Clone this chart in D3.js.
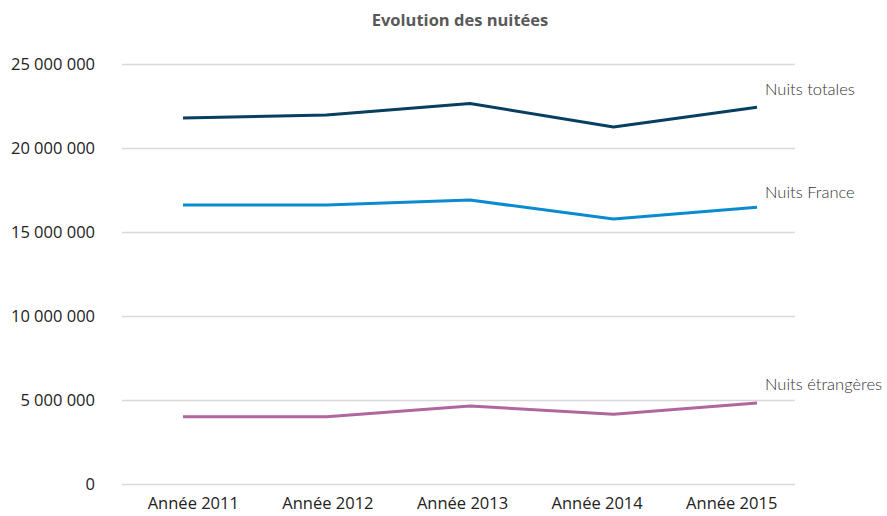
<!DOCTYPE html>
<html lang="fr">
<head>
<meta charset="utf-8">
<title>Evolution des nuitées</title>
<script src="https://cdnjs.cloudflare.com/ajax/libs/d3/7.8.5/d3.min.js"></script>
<style>
  body { margin: 0; background: #fff; }
  svg { display: block; }
  .tick text { font-family: "Open Sans", sans-serif; font-size: 16.5px; fill: #222; }
</style>
</head>
<body>
<div id="chart"></div>
<script>
// data
const years = ["Année 2011", "Année 2012", "Année 2013", "Année 2014", "Année 2015"];
const totales = [21790000, 21960000, 22650000, 21250000, 22420000];
const france = [16600000, 16600000, 16900000, 15770000, 16470000];
const etrangeres = [4000000, 4000000, 4640000, 4150000, 4820000];
const yTicks = [0, 5000000, 10000000, 15000000, 20000000, 25000000];

const series = [
  { name: "Nuits totales", values: totales, color: "#063f5f", dy: -12 },
  { name: "Nuits France", values: france, color: "#0a8bd0", dy: -9 },
  { name: "Nuits étrangères", values: etrangeres, color: "#b0679f", dy: -13 }
];

const w = 887, h = 516;
const mLeft = 122, mRight = 795, mTop = 64, mBottom = 484;

const svg = d3.select("#chart").append("svg")
  .attr("width", w)
  .attr("height", h);

const y = d3.scaleLinear().domain([0, 25000000]).range([mBottom, mTop]);
// the lines and the category labels do not share the same spacing in the original
const xLine = d3.scalePoint().domain(years).range([183, 757]);
const xBand = d3.scaleBand().domain(years).range([mLeft + 4, mRight + 4]);

const fmt = d => d3.format(",")(d).replace(/,/g, " ");

// grid + y labels
const yAxis = svg.append("g")
  .attr("transform", `translate(${mLeft},0)`)
  .call(d3.axisLeft(y).tickValues(yTicks).tickFormat(fmt).tickSize(-(mRight - mLeft)).tickPadding(27));
yAxis.select(".domain").remove();
yAxis.selectAll(".tick line").attr("stroke", "#d9d9d9").attr("stroke-width", 1.3);

// x labels
const xAxis = svg.append("g")
  .attr("transform", `translate(0,${mBottom})`)
  .call(d3.axisBottom(xBand).tickSize(0).tickPadding(13));
xAxis.select(".domain").remove();
xAxis.selectAll(".tick text").style("font-size", "16.5px");

const line = d3.line()
  .x((d, i) => xLine(years[i]))
  .y(d => y(d));

series.forEach(s => {
  svg.append("path")
    .datum(s.values)
    .attr("fill", "none")
    .attr("stroke", s.color)
    .attr("stroke-width", 3)
    .attr("stroke-linejoin", "round")
    .attr("d", line);

  svg.append("text")
    .attr("x", 765)
    .attr("y", y(s.values[s.values.length - 1]) + s.dy)
    .attr("font-family", "Lato, sans-serif")
    .attr("font-weight", 300)
    .attr("font-size", 16.5)
    .attr("fill", "#333")
    .text(s.name);
});

svg.append("text")
  .attr("x", 460)
  .attr("y", 26)
  .attr("text-anchor", "middle")
  .attr("font-family", "Open Sans, sans-serif")
  .attr("font-weight", 700)
  .attr("font-size", 16.5)
  .attr("fill", "#595959")
  .text("Evolution des nuitées");
</script>
</body>
</html>
